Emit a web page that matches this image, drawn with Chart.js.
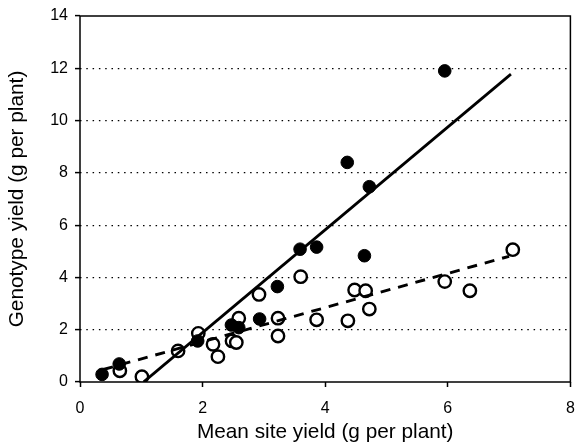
<!DOCTYPE html>
<html>
<head>
<meta charset="utf-8">
<script src="https://cdn.jsdelivr.net/npm/chart.js@4"></script>
<style>
    html, body { margin: 0; padding: 0; background: #fff; }
    #wrap { width: 579px; height: 445px; }
</style>
</head>
<body>
<div id="wrap"><canvas id="chart"></canvas></div>
<script>
// filled circles
const filledX = [0.36, 0.64, 1.92, 2.47, 2.59, 2.93, 3.22, 3.59, 3.86, 4.36, 4.64, 4.72, 5.95];
const filledY = [0.29, 0.69, 1.57, 2.18, 2.08, 2.41, 3.65, 5.08, 5.16, 8.40, 4.83, 7.47, 11.9];

// open circles
const openX = [0.65, 1.01, 1.60, 1.93, 2.17, 2.25, 2.48, 2.55, 2.59, 2.92, 3.23, 3.23, 3.60, 3.86, 4.37, 4.48, 4.66, 4.72, 5.95, 6.36, 7.06];
const openY = [0.43, 0.20, 1.19, 1.86, 1.44, 0.97, 1.57, 1.51, 2.44, 3.35, 2.44, 1.76, 4.03, 2.38, 2.34, 3.52, 3.49, 2.79, 3.84, 3.49, 5.06];

// fitted lines: [slope, intercept] and x range
const solidFit = [1.965, -2.04];
const solidRange = [1.04, 7.03];
const dashedFit = [0.654, 0.23];
const dashedRange = [0.38, 7.0];

const xTicks = [0, 2, 4, 6, 8];
const yTicks = [0, 2, 4, 6, 8, 10, 12, 14];

function toPoints(xs, ys) {
    return xs.map((x, i) => ({ x: x, y: ys[i] }));
}

function fitLine(fit, range) {
    return range.map(x => ({ x: x, y: fit[0] * x + fit[1] }));
}

const frame = {
    id: "frame",
    afterDraw(chart) {
        const a = chart.chartArea;
        const ctx = chart.ctx;
        ctx.save();
        ctx.strokeStyle = "#000";
        ctx.lineWidth = 1.5;
        ctx.strokeRect(a.left, a.top, a.right - a.left, a.bottom - a.top);
        ctx.restore();
    }
};

const tickFont = { family: "'Liberation Sans', Arial, sans-serif", size: 16 };
const titleFont = { family: "'Liberation Sans', Arial, sans-serif", size: 20.8 };

new Chart(document.getElementById("chart"), {
    type: "scatter",
    data: {
        datasets: [
            {
                type: "line",
                data: fitLine(solidFit, solidRange),
                borderColor: "#000",
                borderWidth: 2.8,
                pointRadius: 0,
                fill: false
            },
            {
                type: "line",
                data: fitLine(dashedFit, dashedRange),
                borderColor: "#000",
                borderWidth: 2.9,
                borderDash: [10, 8],
                pointRadius: 0,
                fill: false
            },
            {
                data: toPoints(filledX, filledY),
                backgroundColor: "#000",
                borderColor: "#000",
                borderWidth: 1,
                pointRadius: 6.3
            },
            {
                data: toPoints(openX, openY),
                backgroundColor: "#fff",
                borderColor: "#000",
                borderWidth: 2.4,
                pointRadius: 6.2
            }
        ]
    },
    plugins: [frame],
    options: {
        responsive: true,
        maintainAspectRatio: false,
        animation: false,
        layout: { padding: { top: 16, right: 6, left: 0, bottom: 0 } },
        plugins: {
            legend: { display: false },
            tooltip: { enabled: false }
        },
        scales: {
            x: {
                min: 0,
                max: 8,
                afterFit(scale) {
                    scale.height = 63;
                    scale.paddingLeft = 0;
                    scale.paddingRight = 0;
                },
                afterBuildTicks(scale) { scale.ticks = xTicks.map(v => ({ value: v })); },
                grid: {
                    drawOnChartArea: false,
                    drawTicks: true,
                    tickLength: 5,
                    tickColor: "#000",
                    tickWidth: 1.5
                },
                border: { display: false },
                ticks: { color: "#000", font: tickFont, padding: 12, maxRotation: 0 },
                title: {
                    display: true,
                    text: "Mean site yield (g per plant)",
                    color: "#000",
                    font: titleFont,
                    padding: { top: 0, bottom: 0 }
                }
            },
            y: {
                min: 0,
                max: 14,
                afterFit(scale) {
                    scale.width = 80;
                    scale.paddingTop = 0;
                    scale.paddingBottom = 0;
                },
                afterBuildTicks(scale) { scale.ticks = yTicks.map(v => ({ value: v })); },
                grid: {
                    color: ctx => (ctx.tick && (ctx.tick.value === 0 || ctx.tick.value === 14)) ? "rgba(0,0,0,0)" : "#000",
                    lineWidth: 1.2,
                    drawTicks: true,
                    tickLength: 5,
                    tickColor: "#000",
                    tickWidth: 1.5,
                    tickBorderDash: []
                },
                border: { display: false, dash: [1.5, 4.8] },
                ticks: { color: "#000", font: tickFont, padding: 7 },
                title: {
                    display: true,
                    text: "Genotype yield (g per plant)",
                    color: "#000",
                    font: titleFont,
                    padding: { top: 5, bottom: 0 }
                }
            }
        }
    }
});
</script>
</body>
</html>
